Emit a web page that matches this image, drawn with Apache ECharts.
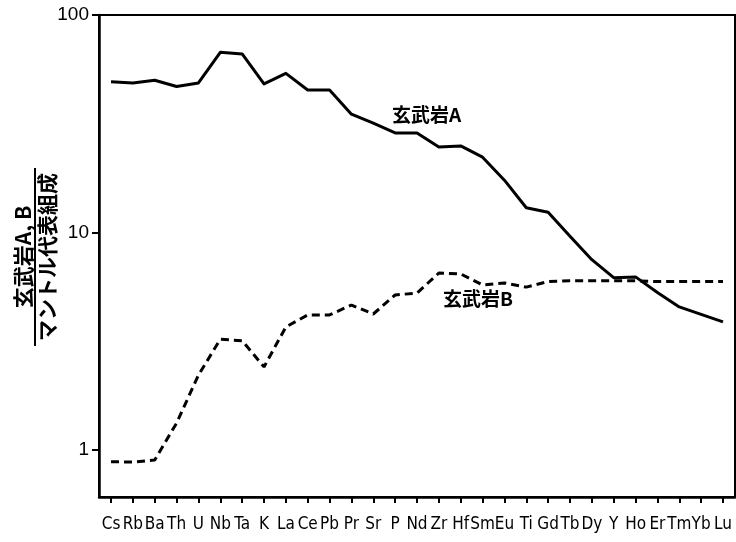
<!DOCTYPE html>
<html>
<head>
<meta charset="utf-8">
<script src="https://cdn.jsdelivr.net/npm/echarts@6/dist/echarts.min.js"></script>
<style>
  html, body { margin: 0; padding: 0; background: #fff; }
  #chart { width: 736px; height: 542px; }
</style>
</head>
<body>
<div id="chart"></div>
<script>
// 元素 (横軸)
const elements = ['Cs', 'Rb', 'Ba', 'Th', 'U', 'Nb', 'Ta', 'K', 'La', 'Ce', 'Pb', 'Pr', 'Sr', 'P', 'Nd',
    'Zr', 'Hf', 'Sm', 'Eu', 'Ti', 'Gd', 'Tb', 'Dy', 'Y', 'Ho', 'Er', 'Tm', 'Yb', 'Lu'];

// 玄武岩A / マントル代表組成
const basaltA = [49.3, 48.7, 50.1, 46.9, 48.7, 67.4, 66.2, 48.2, 53.9, 45.2, 45.2, 35.0, 31.8, 28.7, 28.7,
    24.7, 25.0, 22.2, 17.4, 13.0, 12.4, 9.6, 7.5, 6.2, 6.25, 5.3, 4.55, 4.2, 3.88];

// 玄武岩B / マントル代表組成
const basaltB = [0.884, 0.88, 0.90, 1.33, 2.21, 3.23, 3.18, 2.41, 3.68, 4.18, 4.18, 4.64, 4.22, 5.16, 5.27,
    6.51, 6.45, 5.74, 5.86, 5.61, 5.95, 6.0, 6.0, 6.0, 6.0, 5.95, 5.95, 5.95, 5.95];

const chart = echarts.init(document.getElementById('chart'));

const jp = "'Noto Sans CJK JP', sans-serif";
const narrow = "'DejaVu Sans Condensed', 'Liberation Sans Narrow', 'Liberation Sans', sans-serif";

const option = {
    backgroundColor: '#fff',
    animation: false,
    grid: {
        left: 99, top: 15, right: 1, bottom: 45,
        show: true, borderColor: '#000', borderWidth: 2, backgroundColor: 'transparent'
    },
    xAxis: {
        type: 'value',
        min: -0.55,
        max: 28.55,
        axisLine: { show: true, onZero: false, lineStyle: { color: '#000', width: 2.5 } },
        axisTick: {
            show: true, length: 6, lineStyle: { color: '#000', width: 2 },
            customValues: elements.map((_, i) => i)
        },
        axisLabel: {
            customValues: elements.map((_, i) => i),
            formatter: v => elements[Math.round(v)] || '',
            color: '#000', fontSize: 17, fontFamily: narrow, margin: 19
        },
        splitLine: { show: false }
    },
    yAxis: {
        type: 'log',
        logBase: 10,
        min: 0.608,
        max: 100,
        axisLine: { show: true, onZero: false, lineStyle: { color: '#000', width: 2.5 } },
        axisTick: { show: true, length: 7, lineStyle: { color: '#000', width: 2 } },
        axisLabel: {
            showMinLabel: false,
            color: '#000', fontSize: 19, fontFamily: "'Liberation Sans', sans-serif", margin: 10
        },
        splitLine: { show: false },
        minorTick: { show: false }
    },
    series: [
        {
            name: '玄武岩A',
            type: 'line',
            data: basaltA.map((v, i) => [i, v]),
            symbol: 'none',
            lineStyle: { color: '#000', width: 3, join: 'round' }
        },
        {
            name: '玄武岩B',
            type: 'line',
            data: basaltB.map((v, i) => [i, v]),
            symbol: 'none',
            lineStyle: { color: '#000', width: 3, type: [8, 5] }
        }
    ],
    graphic: [
        {
            type: 'text', left: 392, top: 105,
            style: { text: '玄武岩A', font: `bold 19px ${jp}`, fill: '#000' }
        },
        {
            type: 'text', left: 443, top: 289,
            style: { text: '玄武岩B', font: `bold 19px ${jp}`, fill: '#000' }
        },
        {
            // 縦軸タイトル（分数表記）
            type: 'group',
            x: 35, y: 257,
            rotation: Math.PI / 2,
            children: [
                {
                    type: 'text', x: 0, y: -1,
                    style: { text: '玄武岩A, B', font: `bold 21px ${jp}`, fill: '#000', align: 'center', verticalAlign: 'bottom' }
                },
                {
                    type: 'line',
                    shape: { x1: -89, y1: 0, x2: 89, y2: 0 },
                    style: { stroke: '#000', lineWidth: 2 }
                },
                {
                    type: 'text', x: 0, y: 2,
                    style: { text: 'マントル代表組成', font: `bold 21px ${jp}`, fill: '#000', align: 'center', verticalAlign: 'top' }
                }
            ]
        }
    ]
};

chart.setOption(option);
</script>
</body>
</html>
